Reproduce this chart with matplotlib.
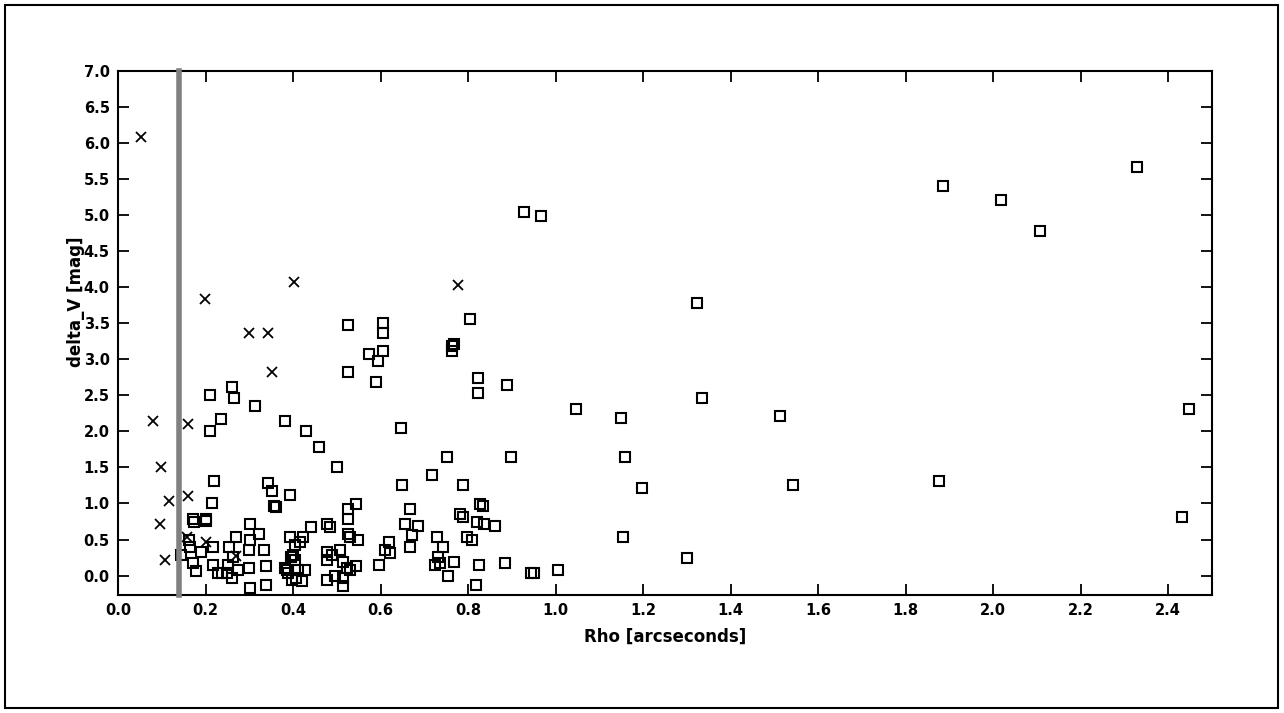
import matplotlib
matplotlib.use("Agg")
import matplotlib.pyplot as plt
from matplotlib.patches import Rectangle

# Crosses (rho, delta_V)
cross_rho = [0.053, 0.080, 0.098, 0.117, 0.096, 0.107, 0.160, 0.160, 0.199, 0.300,
             0.343, 0.352, 0.402, 0.777, 0.200, 0.157, 0.270]
cross_dv = [6.08, 2.14, 1.50, 1.03, 0.72, 0.22, 2.10, 1.10, 3.83, 3.37,
            3.37, 2.83, 4.07, 4.03, 0.47, 0.53, 0.27]

# Squares (rho, delta_V)
sq_rho = [0.928, 0.967, 1.886, 2.018, 2.107, 2.329, 2.448, 2.432, 1.877, 1.323,
          1.335, 1.513, 1.543, 1.047, 1.150, 1.159, 1.198, 1.154, 1.301, 1.006,
          0.944, 0.951, 0.885, 0.898, 0.889, 0.805, 0.606, 0.606, 0.526, 0.574,
          0.606, 0.594, 0.526, 0.590, 0.763, 0.763, 0.768, 0.823, 0.823, 0.210,
          0.261, 0.265, 0.313, 0.235, 0.210, 0.382, 0.430, 0.459, 0.501, 0.219,
          0.343, 0.352, 0.393, 0.215, 0.357, 0.362, 0.171, 0.174, 0.201, 0.201,
          0.302, 0.322, 0.270, 0.441, 0.478, 0.485, 0.526, 0.526, 0.393, 0.423,
          0.416, 0.162, 0.165, 0.190, 0.217, 0.254, 0.302, 0.299, 0.334, 0.263,
          0.171, 0.178, 0.144, 0.217, 0.229, 0.238, 0.249, 0.251, 0.261, 0.274,
          0.299, 0.302, 0.338, 0.338, 0.386, 0.400, 0.395, 0.405, 0.398, 0.421,
          0.427, 0.478, 0.496, 0.514, 0.523, 0.382, 0.389, 0.411, 0.407, 0.405,
          0.478, 0.489, 0.507, 0.514, 0.478, 0.530, 0.544, 0.649, 0.647, 0.752,
          0.718, 0.789, 0.544, 0.667, 0.827, 0.834, 0.782, 0.789, 0.656, 0.686,
          0.821, 0.837, 0.862, 0.672, 0.729, 0.798, 0.809, 0.743, 0.667, 0.549,
          0.619, 0.610, 0.622, 0.731, 0.736, 0.725, 0.768, 0.597, 0.825, 0.754,
          0.818, 0.526, 0.530, 0.514]
sq_dv = [5.04, 4.99, 5.40, 5.21, 4.78, 5.67, 2.31, 0.81, 1.31, 3.78,
         2.47, 2.22, 1.25, 2.31, 2.19, 1.64, 1.22, 0.53, 0.25, 0.08,
         0.04, 0.04, 0.17, 1.64, 2.65, 3.56, 3.51, 3.36, 3.47, 3.07,
         3.11, 2.97, 2.82, 2.69, 3.18, 3.11, 3.21, 2.74, 2.53, 2.50,
         2.61, 2.47, 2.35, 2.17, 2.00, 2.15, 2.00, 1.79, 1.51, 1.31,
         1.29, 1.17, 1.12, 1.00, 0.96, 0.95, 0.79, 0.74, 0.79, 0.75,
         0.71, 0.57, 0.53, 0.67, 0.72, 0.67, 0.92, 0.78, 0.54, 0.54,
         0.47, 0.50, 0.40, 0.33, 0.39, 0.40, 0.50, 0.36, 0.36, 0.26,
         0.18, 0.06, 0.28, 0.14, 0.04, 0.04, 0.04, 0.14, -0.03, 0.08,
         0.11, -0.17, 0.13, -0.13, 0.08, 0.29, 0.26, 0.22, -0.06, -0.08,
         0.08, -0.06, -0.01, -0.15, 0.11, 0.11, 0.04, 0.08, -0.04, 0.43,
         0.33, 0.29, 0.36, 0.19, 0.22, 0.08, 0.13, 1.26, 2.05, 1.64,
         1.39, 1.26, 0.99, 0.92, 0.99, 0.96, 0.85, 0.81, 0.71, 0.69,
         0.74, 0.72, 0.69, 0.56, 0.53, 0.53, 0.49, 0.40, 0.39, 0.50,
         0.47, 0.35, 0.31, 0.26, 0.18, 0.14, 0.19, 0.14, 0.14, 0.00,
         -0.13, 0.57, 0.53, -0.03]

limit_rho = 0.14

x_ticks = [0.0, 0.2, 0.4, 0.6, 0.8, 1.0, 1.2, 1.4, 1.6, 1.8, 2.0, 2.2, 2.4]
y_ticks = [0.0, 0.5, 1.0, 1.5, 2.0, 2.5, 3.0, 3.5, 4.0, 4.5, 5.0, 5.5, 6.0, 6.5, 7.0]

plt.rcParams['font.family'] = ['DejaVu Sans']

fig = plt.figure(figsize=(12.84, 7.13), dpi=100)
fig.patches.append(Rectangle((5 / 1284, 5 / 713), 1273 / 1284, 703 / 713,
                             transform=fig.transFigure, fill=False,
                             edgecolor='black', linewidth=1.5))

ax = fig.add_axes([118 / 1284, 1 - 595 / 713, (1212 - 118) / 1284, (595 - 71) / 713])

ax.plot(sq_rho, sq_dv, linestyle='none', marker='s', markersize=7.8,
        markerfacecolor='none', markeredgecolor='black', markeredgewidth=1.5, zorder=3)
ax.plot(cross_rho, cross_dv, linestyle='none', marker='x', markersize=7,
        markeredgecolor='black', markeredgewidth=1.3, zorder=3)
ax.axvline(limit_rho, color='#808080', linewidth=4, zorder=4, clip_on=False)

ax.set_xlim(0, 2.5)
ax.set_ylim(-0.27, 7.0)
ax.set_xticks(x_ticks)
ax.set_yticks(y_ticks)
ax.set_xticklabels([f"{v:.1f}" for v in x_ticks], fontweight='bold', fontsize=10.5)
ax.set_yticklabels([f"{v:.1f}" for v in y_ticks], fontweight='bold', fontsize=10.5)
ax.tick_params(direction='in', length=8, width=1.3, top=True, right=True, pad=6)
for sp in ax.spines.values():
    sp.set_linewidth(1.5)

ax.set_xlabel("Rho [arcseconds]", fontweight='bold', fontsize=12)
ax.set_ylabel("delta_V [mag]", fontweight='bold', fontsize=12)
ax.xaxis.set_label_coords(0.5, -0.063)
ax.yaxis.set_label_coords(-0.030, 0.56)

fig.savefig("out.png", dpi=100)
